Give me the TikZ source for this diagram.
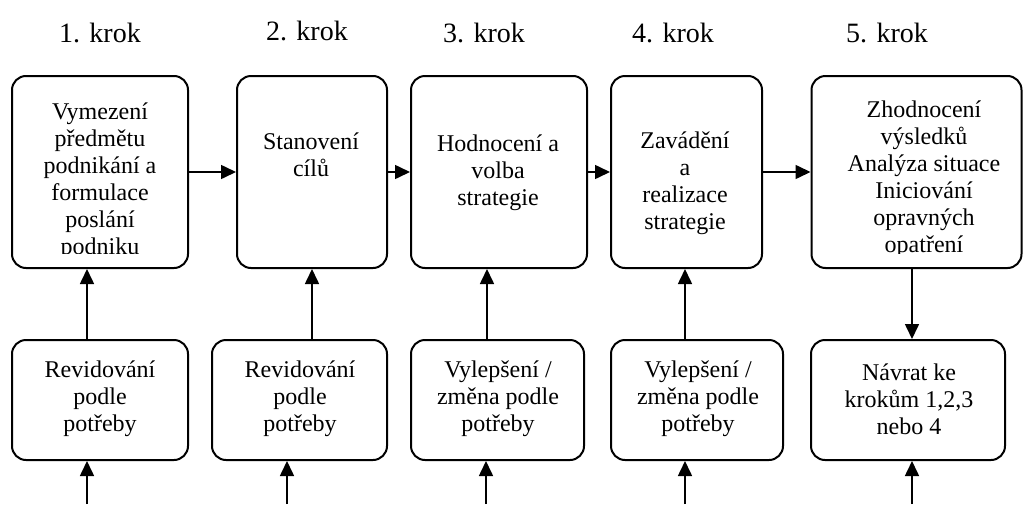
\documentclass[tikz,border=0pt]{standalone}
\usepackage{fontspec}
\setmainfont{Liberation Serif}
\usetikzlibrary{arrows.meta}
\begin{document}
\begin{tikzpicture}[x=0.5pt,y=-0.5pt,
    blok/.style={draw,line width=1pt,rounded corners=7pt,inner sep=0pt},
    popis/.style={align=center,inner sep=0pt,font=\fontsize{12pt}{13.5pt}\selectfont},
    krok/.style={anchor=base,inner sep=0pt,font=\fontsize{14pt}{16pt}\selectfont},
    sipka/.style={line width=0.8pt,-{Triangle[length=7.5pt,width=7pt]}}]
\useasboundingbox (0,0) rectangle (1023,504);
% kroky
\node[krok] (k1) at (100,42) {1. krok};
\node[krok] (k2) at (307,40) {2. krok};
\node[krok] (k3) at (484,42) {3. krok};
\node[krok] (k4) at (673,42) {4. krok};
\node[krok] (k5) at (887,42) {5. krok};
% horni rada
\node[blok,minimum width=88pt,minimum height=96pt] (b1) at (100,172) {};
\node[blok,minimum width=75pt,minimum height=96pt] (b2) at (312,172) {};
\node[blok,minimum width=88pt,minimum height=96pt] (b3) at (499,172) {};
\node[blok,minimum width=75.5pt,minimum height=96pt] (b4) at (686.5,172) {};
\node[blok,minimum width=105pt,minimum height=96pt] (b5) at (916.5,172) {};
\begin{scope}
  \clip (b1.north west) rectangle ([yshift=8pt]b1.south east);
  \node[popis] (t1) at (100,181.5) {Vymezení\\předmětu\\podnikání a\\formulace\\poslání\\podniku};
\end{scope}
\node[popis] (t2) at (311,155) {Stanovení\\cílů};
\node[popis] (t3) at (498,172.5) {Hodnocení a\\volba\\strategie};
\node[popis] (t4) at (685,183.5) {Zavádění\\a\\realizace\\strategie};
\begin{scope}
  \clip (b5.north west) rectangle ([yshift=8pt]b5.south east);
  \node[popis] (t5) at (924,179) {Zhodnocení\\výsledků\\Analýza situace\\Iniciování\\opravných\\opatření};
\end{scope}
% dolni rada
\node[blok,minimum width=88pt,minimum height=60pt] (c1) at (100,400) {};
\node[blok,minimum width=87.5pt,minimum height=60pt] (c2) at (299.5,400) {};
\node[blok,minimum width=86.5pt,minimum height=60pt] (c3) at (497.5,400) {};
\node[blok,minimum width=86pt,minimum height=60pt] (c4) at (697,400) {};
\node[blok,minimum width=97pt,minimum height=60pt] (c5) at (908,400) {};
\node[popis] (u1) at (100,399) {Revidování\\podle\\potřeby};
\node[popis] (u2) at (300,399) {Revidování\\podle\\potřeby};
\node[popis] (u3) at (498,399) {Vylepšení /\\změna podle\\potřeby};
\node[popis] (u4) at (698,399) {Vylepšení /\\změna podle\\potřeby};
\node[popis] (u5) at (909,399) {Návrat ke\\krokům 1,2,3\\nebo 4};
% sipky mezi kroky
\draw[sipka] (b1.east) -- (b2.west);
\draw[sipka] (b2.east) -- (b3.west);
\draw[sipka] (b3.east) -- (b4.west);
\draw[sipka] (b4.east) -- (b5.west);
% svisle sipky
\coordinate (s1) at ([xshift=-6.5pt]b1.south);
\coordinate (s3) at ([xshift=-6pt]b3.south);
\coordinate (s4) at ([xshift=-0.75pt]b4.south);
\coordinate (s5) at ([xshift=-2.25pt]b5.south);
\draw[sipka] (s1 |- c1.north) -- (s1);
\draw[sipka] (c2.north -| b2.south) -- (b2.south);
\draw[sipka] (s3 |- c3.north) -- (s3);
\draw[sipka] (s4 |- c4.north) -- (s4);
\draw[sipka] (s5) -- (s5 |- c5.north);
% volne konce dole
\coordinate (e1) at (87,504);
\coordinate (e2) at (287,504);
\coordinate (e3) at (486,504);
\coordinate (e4) at (685,504);
\coordinate (e5) at (912,504);
\draw[sipka] (e1) -- (e1 |- c1.south);
\draw[sipka] (e2) -- (e2 |- c2.south);
\draw[sipka] (e3) -- (e3 |- c3.south);
\draw[sipka] (e4) -- (e4 |- c4.south);
\draw[sipka] (e5) -- (e5 |- c5.south);
\end{tikzpicture}
\end{document}
